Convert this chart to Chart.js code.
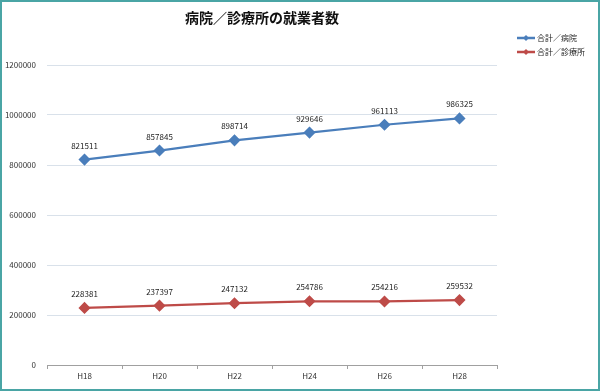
<!DOCTYPE html>
<html><head><meta charset="utf-8">
<script src="https://cdn.jsdelivr.net/npm/chart.js@4"></script>
<style>html,body{margin:0;padding:0;background:#fff;}canvas{display:block;}</style>
</head><body>
<canvas id="c" width="600" height="391"></canvas>
<script>
const categories = ["H18","H20","H22","H24","H26","H28"];
const hospital = [821511, 857845, 898714, 929646, 961113, 986325];
const clinic = [228381, 237397, 247132, 254786, 254216, 259532];
const seriesNames = ["合計／病院", "合計／診療所"];
const chartTitle = "病院／診療所の就業者数";
const yTicks = [0, 200000, 400000, 600000, 800000, 1000000, 1200000];

const FONT = '"Noto Sans CJK JP", "Noto Sans", sans-serif';
const BLUE = '#4a7ebb', RED = '#be4b48';

const deco = {
  id: 'deco',
  afterDatasetsDraw(chart) {
    const ctx = chart.ctx;
    ctx.save();
    ctx.font = '8px ' + FONT;
    ctx.fillStyle = '#222';
    ctx.textAlign = 'center';
    ctx.textBaseline = 'alphabetic';
    chart.data.datasets.forEach((ds, i) => {
      chart.getDatasetMeta(i).data.forEach((pt, j) => {
        ctx.fillText(String(ds.data[j]), pt.x, pt.y - 11);
      });
    });
    ctx.font = 'bold 14px ' + FONT;
    ctx.fillStyle = '#111';
    ctx.textBaseline = 'middle';
    ctx.fillText(chartTitle, 262, 18);
    const cols = [BLUE, RED];
    ctx.font = '8px ' + FONT;
    ctx.textAlign = 'left';
    chart.data.datasets.forEach((ds, i) => {
      const y = 38 + i * 14;
      ctx.strokeStyle = cols[i];
      ctx.lineWidth = 2.5;
      ctx.beginPath(); ctx.moveTo(517, y); ctx.lineTo(535, y); ctx.stroke();
      ctx.fillStyle = cols[i];
      ctx.beginPath();
      ctx.moveTo(526, y - 3); ctx.lineTo(529, y); ctx.lineTo(526, y + 3); ctx.lineTo(523, y); ctx.closePath(); ctx.fill();
      ctx.fillStyle = '#222';
      ctx.fillText(ds.label, 537, y);
    });
    ctx.strokeStyle = '#4aa5a5';
    ctx.lineWidth = 2;
    ctx.strokeRect(1, 1, 598, 389);
    ctx.restore();
  }
};

new Chart(document.getElementById('c'), {
  type: 'line',
  data: {
    labels: categories,
    datasets: [
      { label: seriesNames[0], data: hospital, borderColor: BLUE, backgroundColor: BLUE,
        borderWidth: 2.2, pointStyle: 'rectRot', pointRadius: 4.5, pointHoverRadius: 4.5, tension: 0 },
      { label: seriesNames[1], data: clinic, borderColor: RED, backgroundColor: RED,
        borderWidth: 2.2, pointStyle: 'rectRot', pointRadius: 4.5, pointHoverRadius: 4.5, tension: 0 }
    ]
  },
  options: {
    responsive: false,
    animation: false,
    devicePixelRatio: 1,
    layout: { padding: { left: 5, right: 103, top: 65, bottom: 4 } },
    plugins: { legend: { display: false }, title: { display: false }, tooltip: { enabled: false } },
    scales: {
      x: {
        offset: true,
        grid: { display: true, drawOnChartArea: false, drawTicks: true, tickLength: 4, offset: true, color: '#a0a0a0' },
        border: { display: true, color: '#a0a0a0', width: 1 },
        ticks: { font: { size: 8, family: FONT }, color: '#333', padding: 2, maxRotation: 0 },
        afterFit(s) { s.height = 22; }
      },
      y: {
        min: 0, max: 1200000,
        afterBuildTicks(s) { s.ticks = yTicks.map(v => ({ value: v })); },
        grid: { color: '#d9e1ea', drawTicks: false },
        border: { display: false },
        ticks: { font: { size: 8, family: FONT }, color: '#333', padding: 11, callback: v => String(v) },
        afterFit(s) { s.width = 42; }
      }
    }
  },
  plugins: [deco]
});
</script>
</body></html>
